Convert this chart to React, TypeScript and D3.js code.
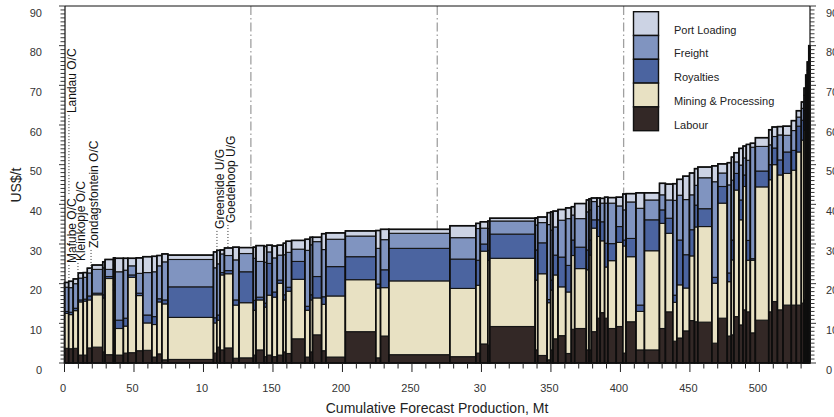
import React from 'react';
import * as d3 from 'd3';

// Cumulative cost curve: each bar = one mine (width = forecast production, Mt)
const production = [
  3.0, 3.3, 3.6, 3.6, 2.9, 3.4, 7.7, 1.7, 6.0, 1.2,
  6.0, 3.2, 6.0, 4.8, 6.5, 3.6, 3.6, 4.3, 32.8,
  2.4, 2.4, 3.1, 6.0, 4.5, 10.3, 1.9, 5.8, 1.9, 4.0, 3.6,
  4.3, 1.9, 4.1, 9.6, 3.6, 1.9, 6.5, 3.1, 14.0, 21.9,
  3.4, 6.0, 43.9, 18.7, 3.2, 5.4, 1.4, 32.7, 1.8, 6.8,
  2.5, 1.7, 3.6, 5.5, 4.1, 2.4, 8.4, 1.9, 1.7, 4.0,
  2.4, 3.1, 2.4, 6.0, 4.7, 2.4, 7.1, 6.1, 10.8, 4.3,
  5.3, 2.9, 4.3, 4.8, 3.6, 2.4, 10.1, 4.3, 6.8, 2.9,
  1.9, 3.6, 2.9, 2.4, 2.9, 3.6, 9.6, 2.4, 3.9, 4.0,
  6.0, 3.6, 3.6, 1.9, 1.2, 1.1, 1.1, 0.9,
];

const labour = [
  3.7, 3.6, 3.7, 2.0, 2.0, 3.8, 4.0, 2.8, 2.1, 2.0,
  2.0, 2.5, 2.6, 3.1, 3.2, 1.5, 2.3, 0.8, 0.9,
  2.5, 4.0, 3.3, 3.8, 1.2, 1.3, 2.0, 3.3, 1.6, 2.0, 1.6,
  2.0, 2.8, 2.4, 6.1, 1.5, 2.8, 7.1, 3.1, 1.5, 7.9,
  1.3, 6.8, 2.1, 1.6, 2.5, 4.8, 4.5, 9.2, 3.3, 1.9,
  0.8, 3.3, 6.1, 6.9, 2.4, 8.5, 8.7, 3.3, 3.3, 7.9,
  11.3, 12.7, 11.3, 8.7, 9.2, 2.5, 10.4, 3.3, 3.3, 8.7,
  12.9, 5.5, 6.3, 8.1, 10.7, 10.4, 10.3, 5.0, 11.3, 6.8,
  7.1, 11.7, 9.6, 13.4, 12.9, 7.6, 10.8, 12.9, 15.5, 13.4,
  14.6, 14.6, 14.6, 15.1, 15.9, 16.0, 16.0, 16.5,
];

const mining = [
  8.8, 8.6, 9.5, 13.4, 13.6, 12.1, 13.2, 13.6, 19.2, 16.4,
  6.7, 6.8, 19.0, 13.9, 6.9, 8.2, 13.1, 14.1, 10.6,
  7.6, 6.8, 18.9, 18.7, 13.4, 13.9, 11.3, 12.6, 12.5, 15.1, 15.0,
  18.1, 13.1, 15.7, 15.0, 11.8, 13.1, 9.3, 11.7, 15.4, 13.1,
  17.6, 12.2, 18.6, 17.2, 17.1, 23.4, 21.4, 17.2, 17.6, 20.6,
  14.4, 15.1, 16.1, 12.3, 15.5, 18.6, 15.1, 20.2, 23.9, 26.1,
  20.6, 18.1, 12.9, 17.1, 21.2, 27.0, 16.4, 9.7, 25.0, 26.5,
  19.8, 9.8, 13.4, 10.8, 16.3, 23.9, 24.1, 15.1, 29.0, 13.7,
  18.9, 31.9, 26.5, 31.1, 13.0, 18.3, 33.6, 33.3, 34.5, 34.0,
  33.2, 34.0, 38.6, 41.1, 42.8, 45.0, 47.5, 50.6,
];

const royalties = [
  0.5, 0.6, 0.6, 0.5, 0.5, 1.0, 0.4, 0.8, 0.5, 1.3,
  2.1, 2.0, 0.6, 0.6, 2.0, 2.0, 0.8, 1.0, 7.7,
  1.3, 1.3, 0.6, 0.8, 1.3, 7.8, 2.5, 0.7, 1.0, 8.0, 1.3,
  0.8, 1.3, 1.0, 4.5, 1.0, 1.3, 5.4, 1.9, 7.4, 5.8,
  1.0, 4.5, 8.2, 7.4, 6.3, 1.8, 2.5, 6.1, 7.6, 7.8,
  0.8, 2.5, 5.0, 7.5, 6.7, 3.9, 5.4, 5.0, 3.8, 2.1,
  4.2, 4.8, 6.0, 4.3, 4.0, 1.5, 4.6, 1.6, 7.8, 3.4,
  3.8, 1.8, 11.3, 8.4, 6.6, 5.5, 4.5, 1.5, 4.2, 2.2,
  5.0, 4.2, 5.0, 2.9, 5.0, 0.4, 4.0, 3.8, 4.2, 3.8,
  5.4, 5.0, 6.5, 5.0, 5.0, 5.5, 6.0, 6.4,
];

const freight = [
  6.1, 6.2, 6.2, 5.5, 5.5, 5.8, 6.0, 6.8, 1.8, 5.0,
  12.2, 12.1, 2.3, 5.0, 10.7, 11.3, 8.3, 9.6, 6.9,
  12.6, 12.9, 4.7, 3.8, 10.1, 4.6, 10.6, 9.0, 10.3, 2.9, 8.6,
  6.3, 10.1, 8.8, 3.1, 14.1, 12.6, 8.8, 11.9, 6.9, 5.2,
  9.0, 7.6, 3.8, 5.4, 8.0, 4.0, 5.5, 3.3, 6.3, 5.1,
  18.9, 12.6, 7.1, 9.3, 11.8, 6.3, 7.2, 9.6, 7.6, 4.6,
  3.4, 4.7, 10.1, 10.2, 5.2, 7.6, 9.2, 24.4, 5.0, 3.8,
  4.6, 23.9, 11.3, 13.9, 8.8, 5.0, 7.8, 24.1, 3.4, 22.2,
  15.1, 2.9, 8.8, 4.3, 20.2, 28.1, 6.2, 5.0, 2.9, 6.3,
  4.2, 5.0, 2.3, 3.0, 3.8, 4.0, 4.3, 4.5,
];

const portLoading = [
  1.2, 1.6, 1.2, 1.3, 1.2, 1.2, 1.1, 1.5, 2.5, 1.8,
  3.4, 3.0, 1.9, 3.9, 4.0, 3.9, 2.6, 2.0, 1.1,
  4.0, 3.4, 1.0, 1.9, 3.2, 1.5, 2.8, 4.0, 4.0, 1.7, 3.0,
  2.5, 2.9, 2.8, 2.2, 2.8, 1.9, 1.1, 4.0, 1.6, 1.3,
  4.5, 2.6, 1.0, 3.0, 1.3, 1.6, 1.9, 0.7, 1.8, 1.4,
  3.0, 4.6, 4.0, 2.7, 2.7, 2.1, 3.8, 3.0, 2.8, 0.9,
  2.1, 1.2, 1.5, 1.4, 2.2, 4.0, 2.1, 3.9, 1.8, 2.9,
  4.0, 4.2, 4.0, 5.9, 5.5, 4.2, 2.7, 4.0, 2.3, 5.6,
  5.8, 2.3, 4.2, 3.0, 4.0, 1.0, 2.2, 3.8, 2.4, 2.1,
  2.3, 2.5, 1.6, 1.6, 1.8, 2.1, 2.1, 2.0,
];

// Stack order bottom -> top
const seriesKeys = ['labour', 'mining', 'royalties', 'freight', 'port'];
const seriesColors = ['#332826', '#e8e1c3', '#4b64a0', '#8094c0', '#ccd3e4'];
// Legend order top -> bottom
const legendLabels = ['Port Loading', 'Freight', 'Royalties', 'Mining & Processing', 'Labour'];
const legendColors = ['#ccd3e4', '#8094c0', '#4b64a0', '#e8e1c3', '#332826'];

const xTickValues = [0, 50, 100, 150, 200, 250, 300, 350, 400, 450, 500];
const xTickLabels = ['0', '50', '10', '150', '200', '250', '30', '350', '400', '450', '500'];
const yTickValues = [0, 10, 20, 30, 40, 50, 60, 70, 80, 90];

// Annotated mines: leader x (Mt), text start level and leader end level (US$/t)
const siteNames = ['Landau O/C', 'Mafube O/C', 'Kleinkopje O/C', 'Zondagsfontein O/C', 'Greenside U/G', 'Goedehoop U/G'];
const siteMt = [3.2, 3.2, 9.7, 19.1, 109.7, 117.6];
const siteTextLevel = [63.0, 25.2, 25.7, 29.0, 33.8, 35.3];
const siteLeaderEnd = [42.6, 20.7, 21.4, 23.2, 28.5, 29.0];

const FONT = "'Liberation Sans', Arial, Helvetica, sans-serif";

export default function App() {
  const W = 834;
  const H = 417;
  const total = d3.sum(production);
  const x = d3.scaleLinear().domain([0, total]).range([64.5, 810]);
  const y = d3.scaleLinear().domain([0, 90]).range([363, 6]);

  const ends = d3.cumsum(production);
  const rows = production.map((p, i) => ({
    start: ends[i] - p,
    end: ends[i],
    labour: labour[i],
    mining: mining[i],
    royalties: royalties[i],
    freight: freight[i],
    port: portLoading[i],
  }));
  const stacked = d3.stack<any>().keys(seriesKeys)(rows);

  const quartiles = [0.25, 0.5, 0.75].map((f) => f * total);

  const yMinor = d3.range(0, 91, 1);
  const xMinor = d3.range(0, total, 10);

  return (
    <svg
      width={W}
      height={H}
      style={{ position: 'absolute', left: 0, top: 0, background: '#fff' }}
      fontFamily={FONT}
    >
      <rect x={0} y={0} width={W} height={H} fill="#fff" />

      {/* quartile dash-dot lines */}
      {quartiles.map((q, i) => (
        <line
          key={'q' + i}
          x1={x(q)}
          x2={x(q)}
          y1={y(90)}
          y2={y(0)}
          stroke="#a0a0a0"
          strokeWidth={1.3}
          strokeDasharray="9,3,1.5,3"
        />
      ))}

      {/* bars */}
      {rows.map((r, i) => {
        const x0 = x(r.start);
        const w = x(r.end) - x(r.start);
        const top = stacked[stacked.length - 1][i][1];
        return (
          <g key={'b' + i}>
            {stacked.map((layer, k) => {
              const d = layer[i];
              return (
                <rect
                  key={k}
                  x={x0}
                  width={w}
                  y={y(d[1])}
                  height={y(d[0]) - y(d[1])}
                  fill={seriesColors[k]}
                  stroke="#151515"
                  strokeWidth={1.1}
                />
              );
            })}
            <rect
              x={x0}
              width={w}
              y={y(top)}
              height={y(0) - y(top)}
              fill="none"
              stroke="#0d0d0d"
              strokeWidth={1.6}
            />
          </g>
        );
      })}

      {/* frame */}
      <line x1={65} x2={810} y1={y(90)} y2={y(90)} stroke="#111" strokeWidth={1} />
      <line x1={65} x2={65} y1={y(90)} y2={y(0)} stroke="#111" strokeWidth={1.2} />
      <line x1={810} x2={810} y1={y(90)} y2={y(0)} stroke="#111" strokeWidth={1.2} />
      <line x1={65} x2={810} y1={y(0)} y2={y(0)} stroke="#111" strokeWidth={1.2} />

      {/* y minor/major ticks, both sides */}
      {yMinor.map((v) => (
        <g key={'yt' + v}>
          <line x1={v % 10 === 0 ? 59 : 60.5} x2={65} y1={y(v)} y2={y(v)} stroke="#222" strokeWidth={0.9} />
          <line x1={810} x2={v % 10 === 0 ? 816 : 814.5} y1={y(v)} y2={y(v)} stroke="#222" strokeWidth={0.9} />
        </g>
      ))}
      {yTickValues.map((v) => (
        <g key={'yl' + v} fontSize={11} fill="#333">
          <text x={42} y={y(v) + 10.5} textAnchor="end">{v}</text>
          <text x={826} y={y(v) + 10.5} textAnchor="start">{v}</text>
        </g>
      ))}

      {/* x ticks */}
      {xMinor.map((v) => (
        <line
          key={'xt' + v}
          x1={x(v)}
          x2={x(v)}
          y1={y(0)}
          y2={y(0) + (v % 50 === 0 ? 9 : 5.5)}
          stroke="#222"
          strokeWidth={1}
        />
      ))}
      {xTickValues.map((v, i) => (
        <text key={'xl' + v} x={x(v) - 1.5} y={392} textAnchor="middle" fontSize={11} fill="#333">
          {xTickLabels[i]}
        </text>
      ))}

      {/* axis titles */}
      <text transform={`translate(21,185) rotate(-90)`} textAnchor="middle" fontSize={14} fill="#222">
        US$/t
      </text>
      <text x={437} y={413} textAnchor="middle" fontSize={14} fill="#222">
        Cumulative Forecast Production, Mt
      </text>

      {/* mine annotations */}
      {siteNames.map((name, i) => {
        const lx = x(siteMt[i]);
        const ty = y(siteTextLevel[i]);
        return (
          <g key={'s' + i}>
            <line
              x1={lx}
              x2={lx}
              y1={ty + 2}
              y2={y(siteLeaderEnd[i])}
              stroke="#333"
              strokeWidth={1}
              strokeDasharray="1,2"
            />
            <text
              transform={`translate(${lx + 7.3},${ty}) rotate(-90)`}
              fontSize={12}
              fill="#111"
            >
              {name}
            </text>
          </g>
        );
      })}

      {/* legend */}
      {legendLabels.map((lab, i) => {
        const sy = 11.7 + i * 23.8;
        return (
          <g key={'lg' + i}>
            <rect x={633.5} y={sy} width={25} height={23.8} fill={legendColors[i]} stroke="#111" strokeWidth={1.4} />
            <text x={674} y={sy + 11.9 + 10} fontSize={11} fill="#222">
              {lab}
            </text>
          </g>
        );
      })}
    </svg>
  );
}
